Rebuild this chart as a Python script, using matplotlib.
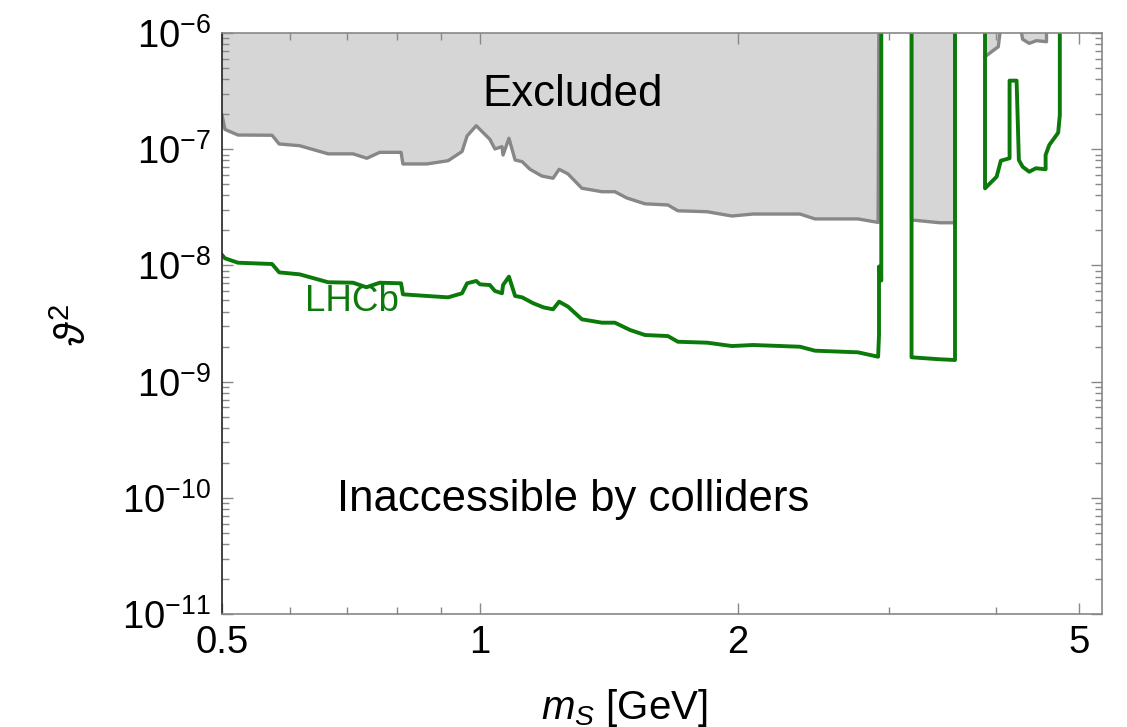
import matplotlib
matplotlib.use('Agg')
import matplotlib.pyplot as plt
from matplotlib.ticker import FixedLocator, LogLocator, NullFormatter, FixedFormatter
import numpy as np

plt.rcParams['font.family'] = ['Liberation Sans', 'DejaVu Sans']
plt.rcParams['mathtext.fontset'] = 'custom'
plt.rcParams['mathtext.rm'] = 'Liberation Sans'
plt.rcParams['mathtext.it'] = 'Liberation Sans:italic'

nan = np.nan
TOP = 1e-5

# excluded region boundary: mass [GeV], log10(theta^2); nan splits pieces
excl_mass = [0.5, 0.504, 0.522, 0.572, 0.583, 0.616, 0.665, 0.711, 0.738, 0.764,
             0.809, 0.813, 0.867, 0.918, 0.953, 0.966, 0.990, 1.027, 1.041, 1.061,
             1.064, 1.081, 1.099, 1.120, 1.144, 1.181, 1.217, 1.237, 1.267, 1.315,
             1.388, 1.437, 1.484, 1.558, 1.657, 1.702, 1.841, 1.968, 2.083, 2.363,
             2.460, 2.761, 2.915, 2.924, nan,
             3.189, 3.189, 3.441, 3.584, 3.584, nan,
             3.885, 4.026, 4.060, nan,
             4.263, 4.298, 4.375, 4.461, 4.583, 4.583]
excl_logt = [-6.706, -6.83, -6.878, -6.88, -6.955, -6.97, -7.04, -7.04, -7.078, -7.027,
             -7.027, -7.127, -7.127, -7.099, -7.02, -6.886, -6.798, -6.915, -6.998, -6.978,
             -7.05, -6.906, -7.093, -7.107, -7.173, -7.231, -7.25, -7.173, -7.213, -7.336,
             -7.366, -7.366, -7.42, -7.47, -7.48, -7.53, -7.538, -7.575, -7.558, -7.558,
             -7.60, -7.60, -7.63, -5.0, nan,
             -5.0, -7.609, -7.633, -7.633, -5.0, nan,
             -6.204, -6.118, -5.9, nan,
             -5.9, -6.054, -6.089, -6.066, -6.075, -5.9]

# LHCb reach
lhcb_mass = [0.5, 0.504, 0.522, 0.572, 0.583, 0.616, 0.665, 0.711, 0.737, 0.764,
             0.809, 0.813, 0.867, 0.918, 0.953, 0.966, 0.990, 1.0, 1.027, 1.041,
             1.061, 1.064, 1.081, 1.099, 1.120, 1.154, 1.186, 1.217, 1.237, 1.267,
             1.315, 1.388, 1.437, 1.497, 1.558, 1.657, 1.702, 1.841, 1.968, 2.083,
             2.363, 2.460, 2.761, 2.915, 2.922, 2.922, 2.94, 2.94,
             3.189, 3.189, 3.441, 3.584, 3.584,
             3.885, 3.885, 4.008, 4.054, 4.150, 4.150, 4.229, 4.255, 4.298, 4.375,
             4.454, 4.572, 4.572, 4.617, 4.729, 4.75, 4.75]
lhcb_logt = [-7.91, -7.939, -7.977, -7.988, -8.06, -8.077, -8.145, -8.149, -8.188, -8.149,
             -8.154, -8.249, -8.263, -8.275, -8.24, -8.154, -8.134, -8.163, -8.169, -8.22,
             -8.24, -8.169, -8.097, -8.263, -8.275, -8.326, -8.361, -8.378, -8.312, -8.355,
             -8.464, -8.493, -8.493, -8.556, -8.599, -8.608, -8.657, -8.665, -8.694, -8.685,
             -8.70, -8.734, -8.748, -8.786, -8.60, -8.01, -8.13, -5.0,
             -5.0, -8.791, -8.808, -8.814, -5.0,
             -5.0, -7.337, -7.237, -7.099, -7.078, -6.41, -6.41, -7.093, -7.151, -7.194,
             -7.164, -7.173, -7.05, -6.964, -6.858, -6.706, -5.0]

x_major = [0.5, 1, 2, 5]
x_major_labels = ['0.5', '1', '2', '5']
x_minor = [0.6, 0.7, 0.8, 0.9, 3, 4]

fig = plt.figure(figsize=(11.27, 7.27), dpi=100)
ax = fig.add_axes([222/1127, 1 - 614/727, 880/1127, 581/727])

ex_m = np.array(excl_mass)
ex_t = 10.0 ** np.array(excl_logt)
ax.fill_between(ex_m, ex_t, TOP, color='#d6d6d6', lw=0)
ax.plot(ex_m, ex_t, color='#878787', lw=2.4)

ax.plot(lhcb_mass, 10.0 ** np.array(lhcb_logt), color='#0b7a0b', lw=2.8)

ax.set_xscale('log')
ax.set_yscale('log')
ax.set_xlim(0.5, 5.32)
ax.set_ylim(1e-11, 1e-6)

ax.xaxis.set_major_locator(FixedLocator(x_major))
ax.xaxis.set_major_formatter(FixedFormatter(x_major_labels))
ax.xaxis.set_minor_locator(FixedLocator(x_minor))
ax.xaxis.set_minor_formatter(NullFormatter())
ax.yaxis.set_minor_locator(LogLocator(base=10, subs=np.arange(2, 10), numticks=20))
ax.yaxis.set_minor_formatter(NullFormatter())
ax.set_yticks([1e-11, 1e-10, 1e-9, 1e-8, 1e-7, 1e-6])
ax.set_yticklabels([r'$10^{-11}$', r'$10^{-10}$', r'$10^{-9}$', r'$10^{-8}$',
                    r'$10^{-7}$', r'$10^{-6}$'])

ax.tick_params(which='both', direction='in', top=True, right=True,
               color='#888888', labelsize=27.5, width=1)
ax.tick_params(which='major', length=8, pad=8)
ax.tick_params(which='minor', length=5)
for s in ['top', 'right', 'bottom']:
    ax.spines[s].set_color('#888888')
ax.spines['left'].set_color('#222222')
for s in ax.spines.values():
    s.set_linewidth(1.2)

ax.text(1.284, 2.95e-7, 'Excluded', fontsize=31.5, ha='center', va='center')
ax.text(1.284, 0.97e-10, 'Inaccessible by colliders', fontsize=31.5, ha='center', va='center')
ax.text(0.709, 4.9e-9, 'LHCb', fontsize=26.5, color='#0b7a0b', ha='center', va='center')

fig.text(624/1127, 1 - 708/727, r'$m_S$ [GeV]', fontsize=29, ha='center', va='center')
fig.text(75/1127, 1 - 325/727, r'$\vartheta^2$', fontsize=30, ha='center', va='center',
         rotation=90)

fig.savefig('out.png', dpi=100)
